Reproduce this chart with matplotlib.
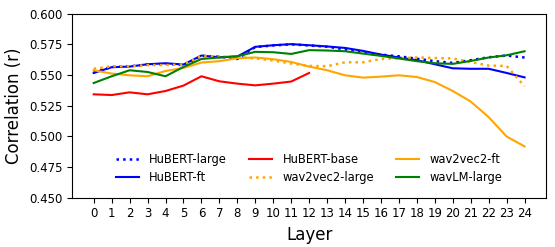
import numpy as np
import matplotlib
matplotlib.use('Agg')
import matplotlib.pyplot as plt

# Layer index 0..24
layers = list(range(25))

# Correlation per layer
hubert_large = [0.552, 0.5565, 0.557, 0.5585, 0.559, 0.558, 0.5655, 0.565, 0.563,
                0.5727, 0.574, 0.5749, 0.574, 0.573, 0.5708, 0.5688, 0.5665, 0.5652,
                0.5632, 0.5612, 0.5598, 0.562, 0.5644, 0.5658, 0.5642]
hubert_ft = [0.5516, 0.5563, 0.5568, 0.5587, 0.5595, 0.5585, 0.5658, 0.5644, 0.565,
             0.5729, 0.5742, 0.5751, 0.5742, 0.5732, 0.572, 0.5696, 0.5666, 0.5642,
             0.562, 0.5587, 0.5554, 0.555, 0.555, 0.5516, 0.548]
hubert_base = [0.5342, 0.5336, 0.5358, 0.5342, 0.5369, 0.5413, 0.5489, 0.5448,
               0.5429, 0.5415, 0.5429, 0.5446, 0.5516]
wav2vec2_large = [0.555, 0.557, 0.557, 0.558, 0.558, 0.5585, 0.5655, 0.565, 0.5645,
                  0.5635, 0.5617, 0.5593, 0.5573, 0.5571, 0.5603, 0.5603, 0.563,
                  0.5636, 0.5642, 0.5638, 0.5634, 0.5605, 0.5576, 0.5573, 0.5407]
wav2vec2_ft = [0.5538, 0.5511, 0.5497, 0.5489, 0.5532, 0.5557, 0.5601, 0.5612, 0.5636,
               0.5642, 0.5628, 0.5606, 0.5568, 0.5538, 0.5497, 0.5478, 0.5486, 0.5497,
               0.5483, 0.5442, 0.5369, 0.5283, 0.5156, 0.4998, 0.4917]
wavlm_large = [0.5434, 0.5489, 0.5538, 0.5524, 0.5489, 0.5565, 0.563, 0.5642, 0.5652,
               0.5688, 0.5685, 0.5671, 0.5702, 0.5699, 0.5693, 0.5674, 0.5655, 0.5634,
               0.5612, 0.5595, 0.559, 0.5614, 0.5642, 0.566, 0.5693]

fig = plt.figure(figsize=(5.55, 2.47), dpi=100)
ax = fig.add_axes([0.130, 0.200, 0.854, 0.745])

ax.plot(layers, hubert_large, ':', color='blue', lw=1.8, label='HuBERT-large')
ax.plot(layers, hubert_ft, '-', color='blue', lw=1.5, label='HuBERT-ft')
ax.plot(layers[:len(hubert_base)], hubert_base, '-', color='red', lw=1.5, label='HuBERT-base')
ax.plot(layers, wav2vec2_large, ':', color='orange', lw=1.8, label='wav2vec2-large')
ax.plot(layers, wav2vec2_ft, '-', color='orange', lw=1.5, label='wav2vec2-ft')
ax.plot(layers, wavlm_large, '-', color='green', lw=1.5, label='wavLM-large')

ax.set_ylim(0.45, 0.6)
ax.set_yticks([0.45, 0.475, 0.5, 0.525, 0.55, 0.575, 0.6])
ax.set_yticklabels(['0.450', '0.475', '0.500', '0.525', '0.550', '0.575', '0.600'])
ax.set_xticks(layers)
ax.tick_params(labelsize=8.5)
ax.set_xlabel('Layer', fontsize=12)
ax.set_ylabel('Correlation (r)', fontsize=12)

ax.legend(ncol=3, loc='lower center', frameon=False, fontsize=8.3,
          columnspacing=1.9, handlelength=2.0, handletextpad=0.9, labelspacing=0.4,
          borderaxespad=0.8)

fig.savefig('out.png', dpi=100)
